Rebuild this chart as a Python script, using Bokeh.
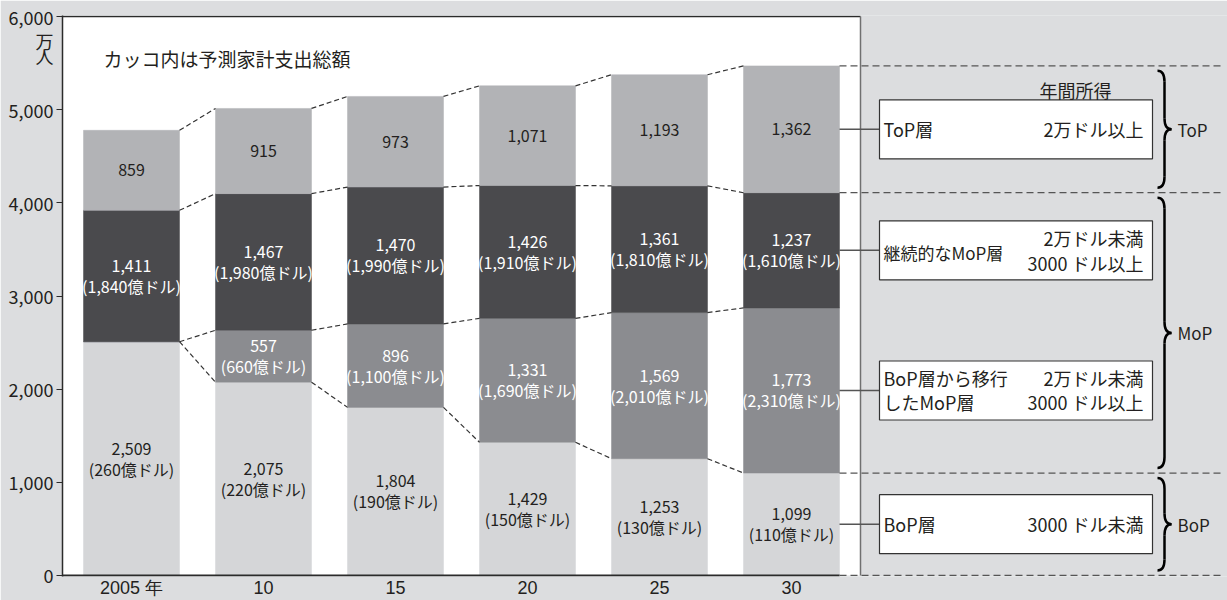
from bokeh.plotting import figure
from bokeh.models import Range1d, FixedTicker, NumeralTickFormatter, ColumnDataSource
from bokeh.core.properties import value
from bokeh.embed import file_html
from bokeh.resources import INLINE

# ---------------- data ----------------
years = ["2005 年", "10", "15", "20", "25", "30"]
bop = [2509, 2075, 1804, 1429, 1253, 1099]            # BoP層
bop_spend = [260, 220, 190, 150, 130, 110]            # 億ドル
shift_mop = [0, 557, 896, 1331, 1569, 1773]           # BoP層から移行したMoP層
shift_spend = [0, 660, 1100, 1690, 2010, 2310]
cont_mop = [1411, 1467, 1470, 1426, 1361, 1237]       # 継続的なMoP層
cont_spend = [1840, 1980, 1990, 1910, 1810, 1610]
top_layer = [859, 915, 973, 1071, 1193, 1362]         # ToP層
y_ticks = [0, 1000, 2000, 3000, 4000, 5000, 6000]

subtitle = "カッコ内は予測家計支出総額"
unit_lines = ["万", "人"]

# ---------------- styling / layout ----------------
FONT_NAME = "Noto Sans CJK JP"
FONT = value(FONT_NAME)
BG = "#dcdddf"
C_BOP = "#d5d6d8"
C_SHIFT = "#8b8c90"
C_CONT = "#4a4a4d"
C_TOP = "#b2b3b6"
TXT = "#231f20"

FIG_W, FIG_H = 1227, 600
B_LEFT, B_TOP, B_BOTTOM = 62, 15, 23
PX_X = 132.0
X0 = -69 / PX_X
X_PLOT_END = X0 + 798 / PX_X
X1 = X0 + (FIG_W - B_LEFT) / PX_X
Y0, Y1 = -12, 6012
PX_Y = (FIG_H - B_TOP - B_BOTTOM) / (Y1 - Y0)
BW = 96 / PX_X


def fx(page_px):
    return X0 + (page_px - B_LEFT) / PX_X


def dy(px):
    return px / PX_Y


p = figure(width=FIG_W, height=FIG_H, x_range=Range1d(X0, X1), y_range=Range1d(Y0, Y1),
           output_backend="svg", toolbar_location=None,
           min_border_left=B_LEFT, min_border_right=0, min_border_top=B_TOP,
           min_border_bottom=B_BOTTOM, background_fill_color=BG, border_fill_color=BG,
           outline_line_color=None)
p.xgrid.grid_line_color = None
p.ygrid.grid_line_color = None

n = len(years)
xs = list(range(n))
c1 = [b for b in bop]
c2 = [a + s for a, s in zip(c1, shift_mop)]
c3 = [a + c for a, c in zip(c2, cont_mop)]
c4 = [a + t for a, t in zip(c3, top_layer)]

# white plotting area
p.quad(left=[X0], right=[X_PLOT_END], bottom=[0], top=[6000], fill_color="white", line_color=None)

# stacked bars
src = ColumnDataSource(dict(x=xs, bop=bop, shift=shift_mop, cont=cont_mop, top=top_layer))
p.vbar_stack(["bop", "shift", "cont", "top"], x="x", width=BW,
             color=[C_BOP, C_SHIFT, C_CONT, C_TOP], line_width=0.5, source=src)

# dashed connectors between bars
sx0, sy0, sx1, sy1 = [], [], [], []
for i in range(n - 1):
    for c in (c1, c2, c3, c4):
        sx0.append(i + BW / 2); sy0.append(c[i])
        sx1.append(i + 1 - BW / 2); sy1.append(c[i + 1])
p.segment(sx0, sy0, sx1, sy1, line_color="#333333", line_width=1.2, line_dash="5 3")

# plot frame lines
p.segment([X0], [6000], [X_PLOT_END], [6000], line_color="#2b2b2b", line_width=1.5)
p.segment([X_PLOT_END], [0], [X_PLOT_END], [6000], line_color="#707070", line_width=1.5)
p.segment([X0], [0], [n - 1 + BW / 2], [0], line_color="#2b2b2b", line_width=2)

# right dashed reference lines
levels = [c4[-1], c3[-1], c1[-1], 0]
p.segment([n - 1 + BW / 2] * 4, levels, [fx(1221)] * 4, levels,
          line_color="#555555", line_width=1.3, line_dash="7 4")

# bar labels
def lab(xv, yv, txt, color, off=0):
    p.text(x=xv, y=yv, text=txt, text_align="center", text_baseline="middle",
           text_font=FONT, text_font_size="16px", text_color=color, y_offset=off)

top_mid = [(a + b) / 2 for a, b in zip(c3, c4)]
lab(xs, top_mid, [f"{v:,}" for v in top_layer], TXT)

cont_mid = [(a + b) / 2 for a, b in zip(c2, c3)]
lab(xs, cont_mid, [f"{v:,}" for v in cont_mop], "white", -10)
lab(xs, cont_mid, [f"({v:,}億ドル)" for v in cont_spend], "white", 10)

sh_idx = [i for i in xs if shift_mop[i] > 0]
sh_mid = [(c1[i] + c2[i]) / 2 for i in sh_idx]
lab(sh_idx, sh_mid, [f"{shift_mop[i]:,}" for i in sh_idx], "white", -10)
lab(sh_idx, sh_mid, [f"({shift_spend[i]:,}億ドル)" for i in sh_idx], "white", 10)

bop_mid = [v / 2 for v in c1]
lab(xs, bop_mid, [f"{v:,}" for v in bop], TXT, -10)
lab(xs, bop_mid, [f"({v:,}億ドル)" for v in bop_spend], TXT, 10)

# subtitle
p.text(x=[fx(103)], y=[Y1 - dy(43)], text=[subtitle], text_align="left", text_baseline="middle",
       text_font=FONT, text_font_size="19px", text_color=TXT)

# legend boxes on the right
last = n - 1
box_y = [top_mid[last], cont_mid[last], (c1[last] + c2[last]) / 2, bop_mid[last]]
BOX_L, BOX_R = fx(879), fx(1152)
p.segment([last + BW / 2] * 4, box_y, [BOX_L] * 4, box_y, line_color="#555555", line_width=1.5)
p.rect(x=[(BOX_L + BOX_R) / 2] * 4, y=box_y, width=273, height=59, width_units="screen",
       height_units="screen", fill_color="white", line_color="#333333", line_width=1.2)

def btxt(xv, yv, t, align, off=0, size="18px"):
    p.text(x=[xv], y=[yv], text=[t], text_align=align, text_baseline="middle", text_font=FONT,
           text_font_size=size, text_color=TXT, y_offset=off)

TL, TR = fx(883), fx(1143)
btxt((fx(1044) + fx(1106)) / 2, box_y[0], "年間所得", "center", -39)
btxt(TL, box_y[0], "ToP層", "left")
btxt(TR, box_y[0], "2万ドル以上", "right")
btxt(TL, box_y[1], "継続的なMoP層", "left", 2, "17px")
btxt(TR, box_y[1], "2万ドル未満", "right", -12)
btxt(TR, box_y[1], "3000 ドル以上", "right", 13)
btxt(TL, box_y[2], "BoP層から移行", "left", -12)
btxt(TL, box_y[2], "したMoP層", "left", 12)
btxt(TR, box_y[2], "2万ドル未満", "right", -12)
btxt(TR, box_y[2], "3000 ドル以上", "right", 12)
btxt(TL, box_y[3], "BoP層", "left")
btxt(TR, box_y[3], "3000 ドル未満", "right")

# braces
qx0, qy0, qx1, qy1, qcx, qcy = [], [], [], [], [], []
lx0, ly0, lx1, ly1 = [], [], [], []
xt, xb, xp = fx(1157), fx(1164), fx(1171)
regions = [(c3[last], c4[last], "ToP"), (c1[last], c3[last], "MoP"), (0, c1[last], "BoP")]
for lo, hi, name in regions:
    ytop, ybot, ym, r = hi - dy(5), lo + dy(5), (lo + hi) / 2, dy(11)
    for a in [(xt, ytop, xb, ytop - r, xb, ytop), (xb, ym + r, xp, ym, xb, ym),
              (xp, ym, xb, ym - r, xb, ym), (xb, ybot + r, xt, ybot, xb, ybot)]:
        qx0.append(a[0]); qy0.append(a[1]); qx1.append(a[2]); qy1.append(a[3])
        qcx.append(a[4]); qcy.append(a[5])
    for a in [(xb, ytop - r, xb, ym + r), (xb, ym - r, xb, ybot + r)]:
        lx0.append(a[0]); ly0.append(a[1]); lx1.append(a[2]); ly1.append(a[3])
    p.text(x=[fx(1177)], y=[ym], text=[name], text_align="left", text_baseline="middle",
           text_font=FONT, text_font_size="17px", text_color=TXT)
p.quadratic(x0=qx0, y0=qy0, x1=qx1, y1=qy1, cx=qcx, cy=qcy, line_color="black", line_width=2.5)
p.segment(lx0, ly0, lx1, ly1, line_color="black", line_width=2.5)

# axes
unit_pos = [5740, 5580]
p.yaxis.ticker = FixedTicker(ticks=y_ticks + unit_pos, minor_ticks=y_ticks)
p.yaxis.formatter = NumeralTickFormatter(format="0,0")
p.yaxis.major_label_overrides = {v: t for v, t in zip(unit_pos, unit_lines)}
p.yaxis.major_label_text_font = FONT_NAME
p.yaxis.major_label_text_font_size = "18px"
p.yaxis.major_label_text_color = TXT
p.yaxis.major_tick_out = 6
p.yaxis.major_tick_in = 0
p.yaxis.major_tick_line_color = None
p.yaxis.minor_tick_out = 6
p.yaxis.minor_tick_in = 0
p.yaxis.minor_tick_line_color = "#2b2b2b"
p.yaxis.minor_tick_line_width = 1.2
p.yaxis.axis_line_color = "#2b2b2b"
p.yaxis.axis_line_width = 1.5
p.yaxis.major_label_standoff = 3

p.xaxis.ticker = FixedTicker(ticks=xs)
p.xaxis.major_label_overrides = {i: years[i] for i in xs}
p.xaxis.axis_line_color = None
p.xaxis.major_tick_line_color = None
p.xaxis.major_tick_out = 0
p.xaxis.major_tick_in = 0
p.xaxis.minor_tick_line_color = None
p.xaxis.minor_tick_out = 0
p.xaxis.major_label_standoff = 1
p.xaxis.major_label_text_font = "Liberation Sans"
p.xaxis.major_label_text_font_size = "18px"
p.xaxis.major_label_text_color = TXT

open("out.html", "w").write(file_html(p, INLINE))
